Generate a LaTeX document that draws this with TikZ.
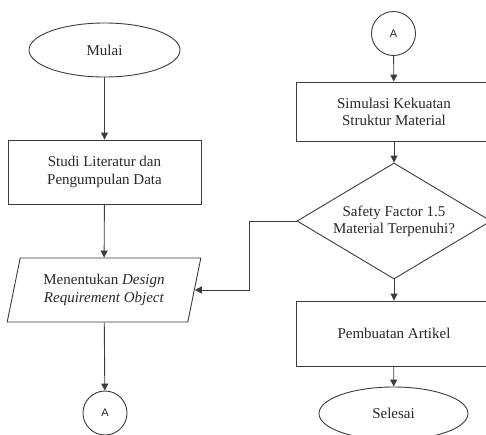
\documentclass[tikz,border=0pt]{standalone}
\usepackage{fontspec}
\setmainfont{Liberation Serif}
\newfontfamily\sansA{Liberation Sans}
\usetikzlibrary{shapes.geometric,arrows.meta}
\definecolor{ln}{RGB}{60,60,60}
\definecolor{tx}{RGB}{40,40,40}
\begin{document}
\begin{tikzpicture}[x=1pt,y=-1pt,
  every node/.style={font=\fontsize{15}{17.25}\selectfont, text=tx},
  base/.style={draw=ln, line width=0.9pt, align=center, inner sep=0pt},
  term/.style={base, ellipse, minimum width=151pt, minimum height=54pt},
  proc/.style={base, rectangle},
  conn/.style={base, circle, minimum size=44pt, font=\sansA\fontsize{11}{13}\selectfont},
  io/.style={base, trapezium, trapezium left angle=73, trapezium right angle=107,
             trapezium stretches, minimum width=194pt, minimum height=64pt},
  dec/.style={base, diamond, minimum width=194pt, minimum height=116pt, aspect=1.67},
  arr/.style={draw=ln, line width=0.9pt, -{Triangle[length=7pt,width=7pt]}}]
\useasboundingbox (0,0) rectangle (486,434);
\clip (0,0) rectangle (486,434);
\node[term] (mulai) at (104.5,50) {Mulai};
\node[proc, minimum width=193pt, minimum height=64pt] (studi) at (104.5,172) {Studi Literatur dan\\Pengumpulan Data};
\node[io] (req) at (104,290) {Menentukan \textit{Design}\\\textit{Requirement Object}};
\node[conn] (a1) at (105,413) {A};
\node[conn] (a2) at (393.5,33.5) {A};
\node[proc, minimum width=196pt, minimum height=59pt] (sim) at (394,111.5) {Simulasi Kekuatan\\Struktur Material};
\node[dec] (dec) at (394,221) {Safety Factor 1.5\\Material Terpenuhi?};
\node[proc, minimum width=196pt, minimum height=65pt] (art) at (394,333.5) {Pembuatan Artikel};
\node[term, minimum width=149pt, minimum height=53pt] (end) at (393.5,413.5) {Selesai};
\coordinate (bend) at (249,221);
\draw[arr] (mulai) -- (studi);
\draw[arr] (studi) -- (req);
\draw[arr] (req) -- (a1);
\draw[arr] (a2) -- (sim);
\draw[arr] (sim) -- (dec);
\draw[arr] (dec) -- (art);
\draw[arr] (art) -- (end);
\draw[arr] (dec.west) -- (bend) |- (req.east);
\end{tikzpicture}
\end{document}
